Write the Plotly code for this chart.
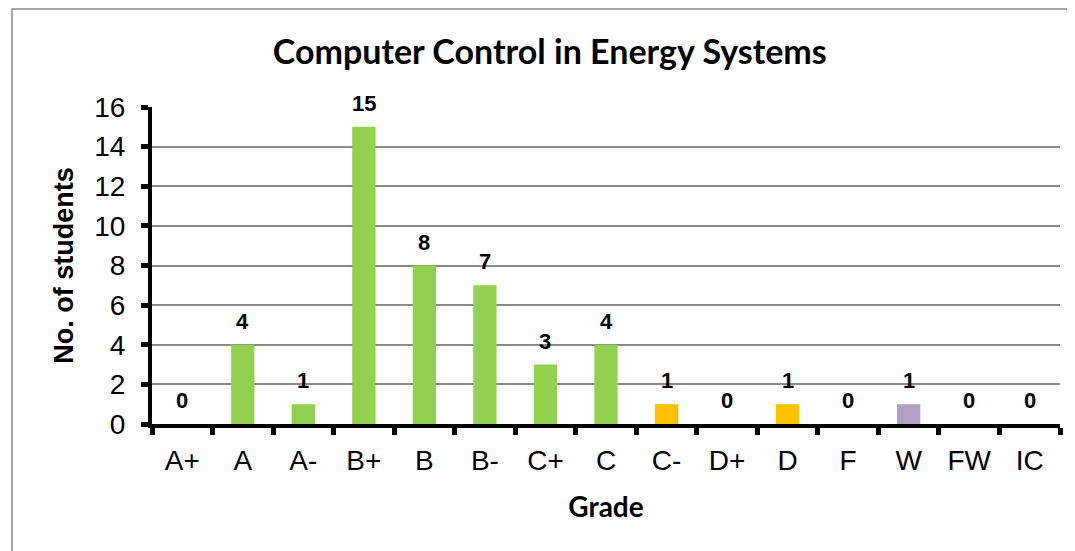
import plotly.graph_objects as go

grades = ["A+", "A", "A-", "B+", "B", "B-", "C+", "C", "C-", "D+", "D", "F", "W", "FW", "IC"]
students = [0, 4, 1, 15, 8, 7, 3, 4, 1, 0, 1, 0, 1, 0, 0]
bar_colors = ["#92D050"] * 8 + ["#FFC000", "#FFC000", "#FFC000", "#FFC000", "#B2A1C7", "#B2A1C7", "#B2A1C7"]

fig = go.Figure()
fig.add_trace(go.Bar(
    x=grades, y=students, marker_color=bar_colors, marker_line_width=0,
    width=0.385, hoverinfo="x+y",
))

# data labels above bars (bold)
for g, v in zip(grades, students):
    fig.add_annotation(
        x=g, y=v, text=f"<b>{v}</b>", showarrow=False,
        yanchor="bottom", yshift=9,
        font=dict(family="Liberation Sans", size=22, color="black"),
    )

# chart border (only left/top edges visible in frame)
fig.add_shape(
    type="rect", xref="paper", yref="paper",
    x0=-0.1542, x1=1.05, y0=-0.5, y1=1.309,
    line=dict(color="#8C8C8C", width=1.5), fillcolor="rgba(0,0,0,0)", layer="below",
)

fig.update_layout(
    width=1075, height=551,
    paper_bgcolor="#FFFFFF", plot_bgcolor="#FFFFFF",
    margin=dict(l=144, r=23, t=99, b=135),
    showlegend=False,
    title=dict(
        text="<b>Computer Control in Energy Systems</b>",
        x=0.504, xanchor="center", xref="container", y=1 - 44 / 551, yanchor="middle",
        font=dict(family="Lato", size=34, color="black"),
    ),
    xaxis=dict(
        type="category", tickson="boundaries",
        ticks="outside", ticklen=7, tickwidth=5, tickcolor="black",
        showline=True, linecolor="black", linewidth=4,
        showgrid=False, ticklabelstandoff=8,
        tickfont=dict(family="Liberation Sans", size=28, color="black"),
        title=dict(text="<b>Grade</b>", standoff=24,
                   font=dict(family="Lato", size=28, color="black")),
    ),
    yaxis=dict(
        range=[0, 16], dtick=2,
        ticks="outside", ticklen=7, tickwidth=5, tickcolor="black",
        showline=True, linecolor="black", linewidth=4,
        showgrid=True, gridcolor="#8A8A8A", gridwidth=1.5,
        zeroline=False, ticklabelstandoff=10,
        tickfont=dict(family="Liberation Sans", size=28, color="black"),
        title=dict(text="<b>No. of students</b>", standoff=14,
                   font=dict(family="Liberation Sans", size=27, color="black")),
    ),
)

fig.write_html("out.html")
